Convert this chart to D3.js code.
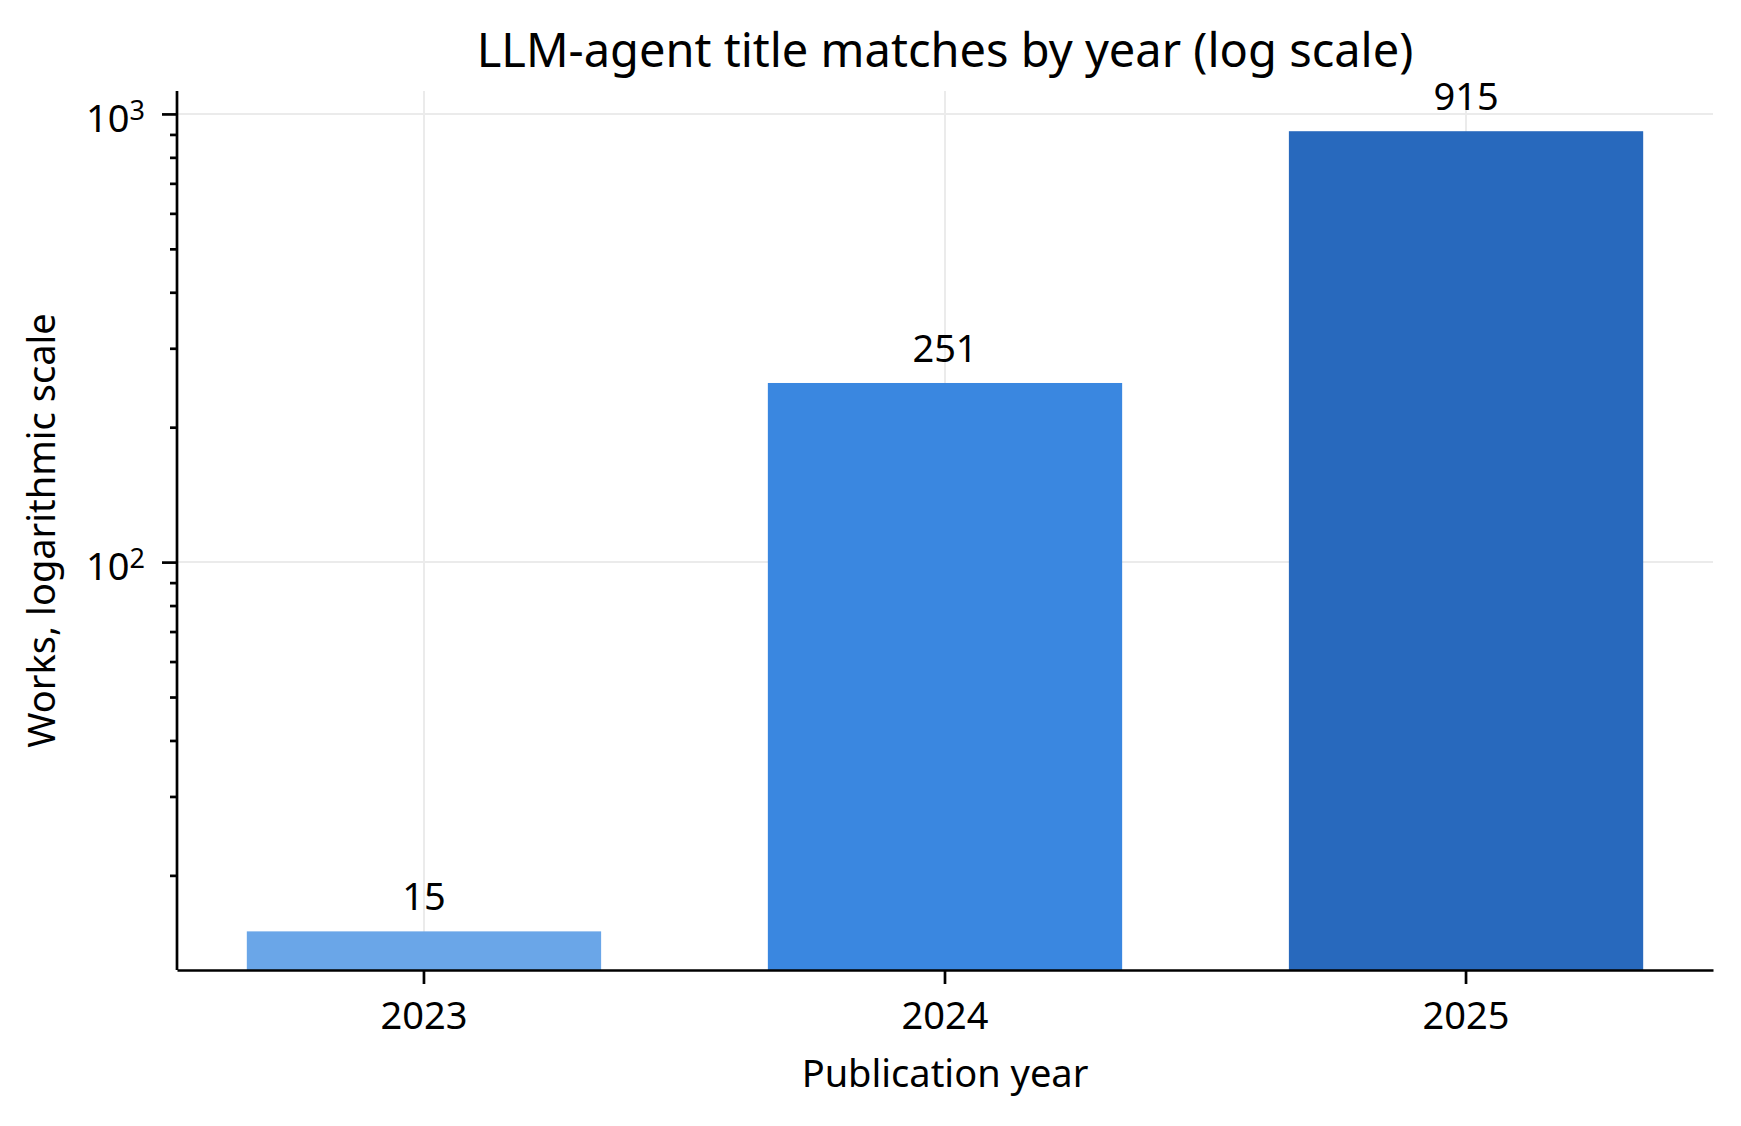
<!DOCTYPE html>
<html>
<head>
<meta charset="utf-8">
<script src="https://cdn.jsdelivr.net/npm/d3@7"></script>
<style>
    body { margin: 0; background: white; }
    text { font-family: "Noto Sans", sans-serif; fill: #000; }
</style>
</head>
<body>
<div id="container"></div>
<script>
/* DATA */
const years = ["2023", "2024", "2025"]
const works = [15, 251, 915]
const barColors = ["#6aa6e8", "#3a87e0", "#2869bd"]
const majorTicks = [100, 1000]
const yDomain = [12.3, 1125]

/* CONSTANTS */
const width = 1741,
    height = 1126,
    margin = { top: 91, right: 28, bottom: 156, left: 177 }

const data = years.map((y, i) => ({ year: y, works: works[i], color: barColors[i] }))

//SCALE
const xScale = d3.scaleBand()
    .domain(years)
    .range([margin.left, width - margin.right])
    .paddingInner(0.32)
    .paddingOuter(0.134)

const yScale = d3.scaleLog()
    .domain(yDomain)
    .range([height - margin.bottom, margin.top])

//SVG
const svg = d3.select("#container")
    .append("svg")
    .attr("width", width)
    .attr("height", height)
    .style("background-color", "white")

// GRID
svg.append("g")
    .selectAll("line")
    .data(years)
    .join("line")
    .attr("x1", d => xScale(d) + xScale.bandwidth() / 2)
    .attr("x2", d => xScale(d) + xScale.bandwidth() / 2)
    .attr("y1", margin.top)
    .attr("y2", height - margin.bottom)
    .attr("stroke", "#ebebeb")
    .attr("stroke-width", 2)

svg.append("g")
    .selectAll("line")
    .data(majorTicks)
    .join("line")
    .attr("x1", margin.left)
    .attr("x2", width - margin.right)
    .attr("y1", d => yScale(d))
    .attr("y2", d => yScale(d))
    .attr("stroke", "#ebebeb")
    .attr("stroke-width", 2)

// BARS
svg.append("g")
    .selectAll("rect")
    .data(data)
    .join("rect")
    .attr("x", d => xScale(d.year))
    .attr("width", xScale.bandwidth())
    .attr("y", d => yScale(d.works))
    .attr("height", d => yScale(yDomain[0]) - yScale(d.works))
    .attr("fill", d => d.color)

// VALUE LABELS
svg.append("g")
    .selectAll("text")
    .data(data)
    .join("text")
    .attr("x", d => xScale(d.year) + xScale.bandwidth() / 2)
    .attr("y", d => yScale(d.works) - 21)
    .attr("text-anchor", "middle")
    .style("font-size", "38px")
    .text(d => d.works)

// AXES
const minorTicks = yScale.ticks().filter(t => !majorTicks.includes(t))

const yMinor = svg.append("g")
    .attr("transform", "translate(" + margin.left + ",0)")
    .call(d3.axisLeft(yScale).tickValues(minorTicks).tickSize(7).tickFormat(""))

const yMajor = svg.append("g")
    .attr("transform", "translate(" + margin.left + ",0)")
    .call(d3.axisLeft(yScale).tickValues(majorTicks).tickSize(15).tickPadding(17).tickFormat(""))

yMajor.selectAll(".tick text")
    .attr("dy", "0.47em")
    .style("font-size", "38px")
    .each(function (d) {
        const t = d3.select(this)
        t.append("tspan").text("10")
        t.append("tspan")
            .attr("dy", "-0.45em")
            .style("font-size", "27px")
            .text(Math.round(Math.log10(d)))
    })

const xAxis = svg.append("g")
    .attr("transform", "translate(0," + (height - margin.bottom) + ")")
    .call(d3.axisBottom(xScale).tickSize(14).tickSizeOuter(0))

xAxis.selectAll(".tick text")
    .attr("y", 59)
    .attr("dy", null)
    .style("font-size", "38px")

svg.selectAll(".domain, .tick line")
    .attr("stroke", "#000")
    .attr("stroke-width", 2.7)

yMinor.select(".domain").remove()
yMajor.select(".domain")
    .attr("d", "M0," + margin.top + "V" + (height - margin.bottom))

// LABELS
svg.append("text")
    .attr("x", (margin.left + width - margin.right) / 2)
    .attr("y", 67)
    .attr("text-anchor", "middle")
    .style("font-size", "47px")
    .text("LLM-agent title matches by year (log scale)")

svg.append("text")
    .attr("x", (margin.left + width - margin.right) / 2)
    .attr("y", 1087)
    .attr("text-anchor", "middle")
    .style("font-size", "38px")
    .text("Publication year")

svg.append("text")
    .attr("transform", "rotate(-90)")
    .attr("x", -(margin.top + height - margin.bottom) / 2)
    .attr("y", 55)
    .attr("text-anchor", "middle")
    .style("font-size", "38px")
    .text("Works, logarithmic scale")
</script>
</body>
</html>
